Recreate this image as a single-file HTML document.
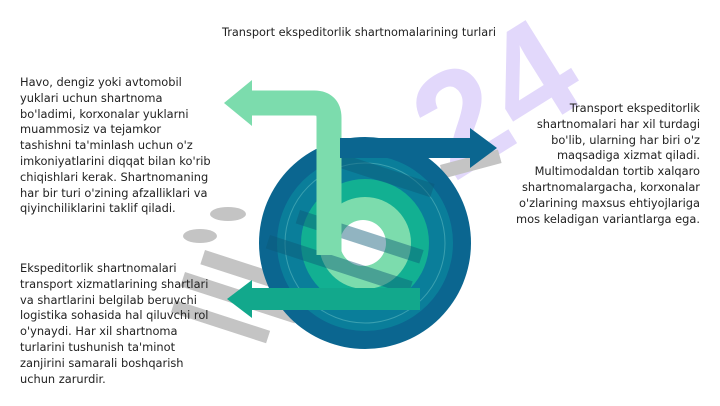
<!DOCTYPE html>
<html><head><meta charset="utf-8"><style>
body{margin:0;background:#fff;width:720px;height:406px;overflow:hidden;position:relative;font-family:"DejaVu Sans",sans-serif;color:#222}
svg{position:absolute;left:0;top:0}
.t{position:absolute;font-size:11.4px;line-height:15.8px;white-space:nowrap}
</style></head><body>
<svg width="720" height="406" viewBox="0 0 720 406">
<text x="0" y="0" font-size="145" font-weight="bold" fill="#e2d8fb" font-family="Liberation Sans" transform="translate(522 140) rotate(-32)" text-anchor="middle">24</text>
<g fill="#c4c4c4">
<ellipse cx="228" cy="214" rx="18" ry="7"/>
<ellipse cx="200" cy="236" rx="17" ry="7"/>
<rect x="205" y="250" width="120" height="15" transform="rotate(18 205 250)"/>
<rect x="185" y="272" width="120" height="15" transform="rotate(18 185 272)"/>
<rect x="175" y="300" width="100" height="13" transform="rotate(18 175 300)"/>
<rect x="440" y="165" width="60" height="14" transform="rotate(-15 440 165)"/>
</g>
<circle cx="365" cy="243" r="106" fill="#0b6690"/>
<circle cx="365" cy="243" r="88" fill="#0a7e9a"/>
<circle cx="365" cy="243" r="80" fill="none" stroke="#3aa0b0" stroke-width="1"/>
<circle cx="365" cy="243" r="64" fill="#12b092"/>
<circle cx="365" cy="243" r="46" fill="#7cdcad"/>
<circle cx="363" cy="243" r="23" fill="#fff"/>
<g fill="#0d5a78" opacity="0.45">
<rect x="300" y="210" width="130" height="14" transform="rotate(18 300 210)"/>
<rect x="270" y="235" width="150" height="14" transform="rotate(18 270 235)"/>
<rect x="330" y="150" width="110" height="14" transform="rotate(18 330 150)"/>
</g>
<path d="M329 255 V118 Q329 103 314 103 H250" fill="none" stroke="#7cdcad" stroke-width="25"/>
<polygon points="252,80 224,103 252,126" fill="#7cdcad"/>
<rect x="340" y="138" width="132" height="20" fill="#0b6690"/>
<polygon points="470,128 497,148 470,168" fill="#0b6690"/>
<path d="M420 299 H250" stroke="#12a88c" stroke-width="22"/>
<polygon points="252,280 227,299 252,318" fill="#12a88c"/>
</svg>
<div class="t" style="left:222px;top:25px;font-size:11.3px">Transport ekspeditorlik shartnomalarining turlari</div>
<div class="t" style="left:20px;top:75px">Havo, dengiz yoki avtomobil<br>yuklari uchun shartnoma<br>bo'ladimi, korxonalar yuklarni<br>muammosiz va tejamkor<br>tashishni ta'minlash uchun o'z<br>imkoniyatlarini diqqat bilan ko'rib<br>chiqishlari kerak. Shartnomaning<br>har bir turi o'zining afzalliklari va<br>qiyinchiliklarini taklif qiladi.</div>
<div class="t" style="left:20px;top:261px">Ekspeditorlik shartnomalari<br>transport xizmatlarining shartlari<br>va shartlarini belgilab beruvchi<br>logistika sohasida hal qiluvchi rol<br>o'ynaydi. Har xil shartnoma<br>turlarini tushunish ta'minot<br>zanjirini samarali boshqarish<br>uchun zarurdir.</div>
<div class="t" style="right:20px;top:101px;text-align:right">Transport ekspeditorlik<br>shartnomalari har xil turdagi<br>bo'lib, ularning har biri o'z<br>maqsadiga xizmat qiladi.<br>Multimodaldan tortib xalqaro<br>shartnomalargacha, korxonalar<br>o'zlarining maxsus ehtiyojlariga<br>mos keladigan variantlarga ega.</div>
</body></html>
